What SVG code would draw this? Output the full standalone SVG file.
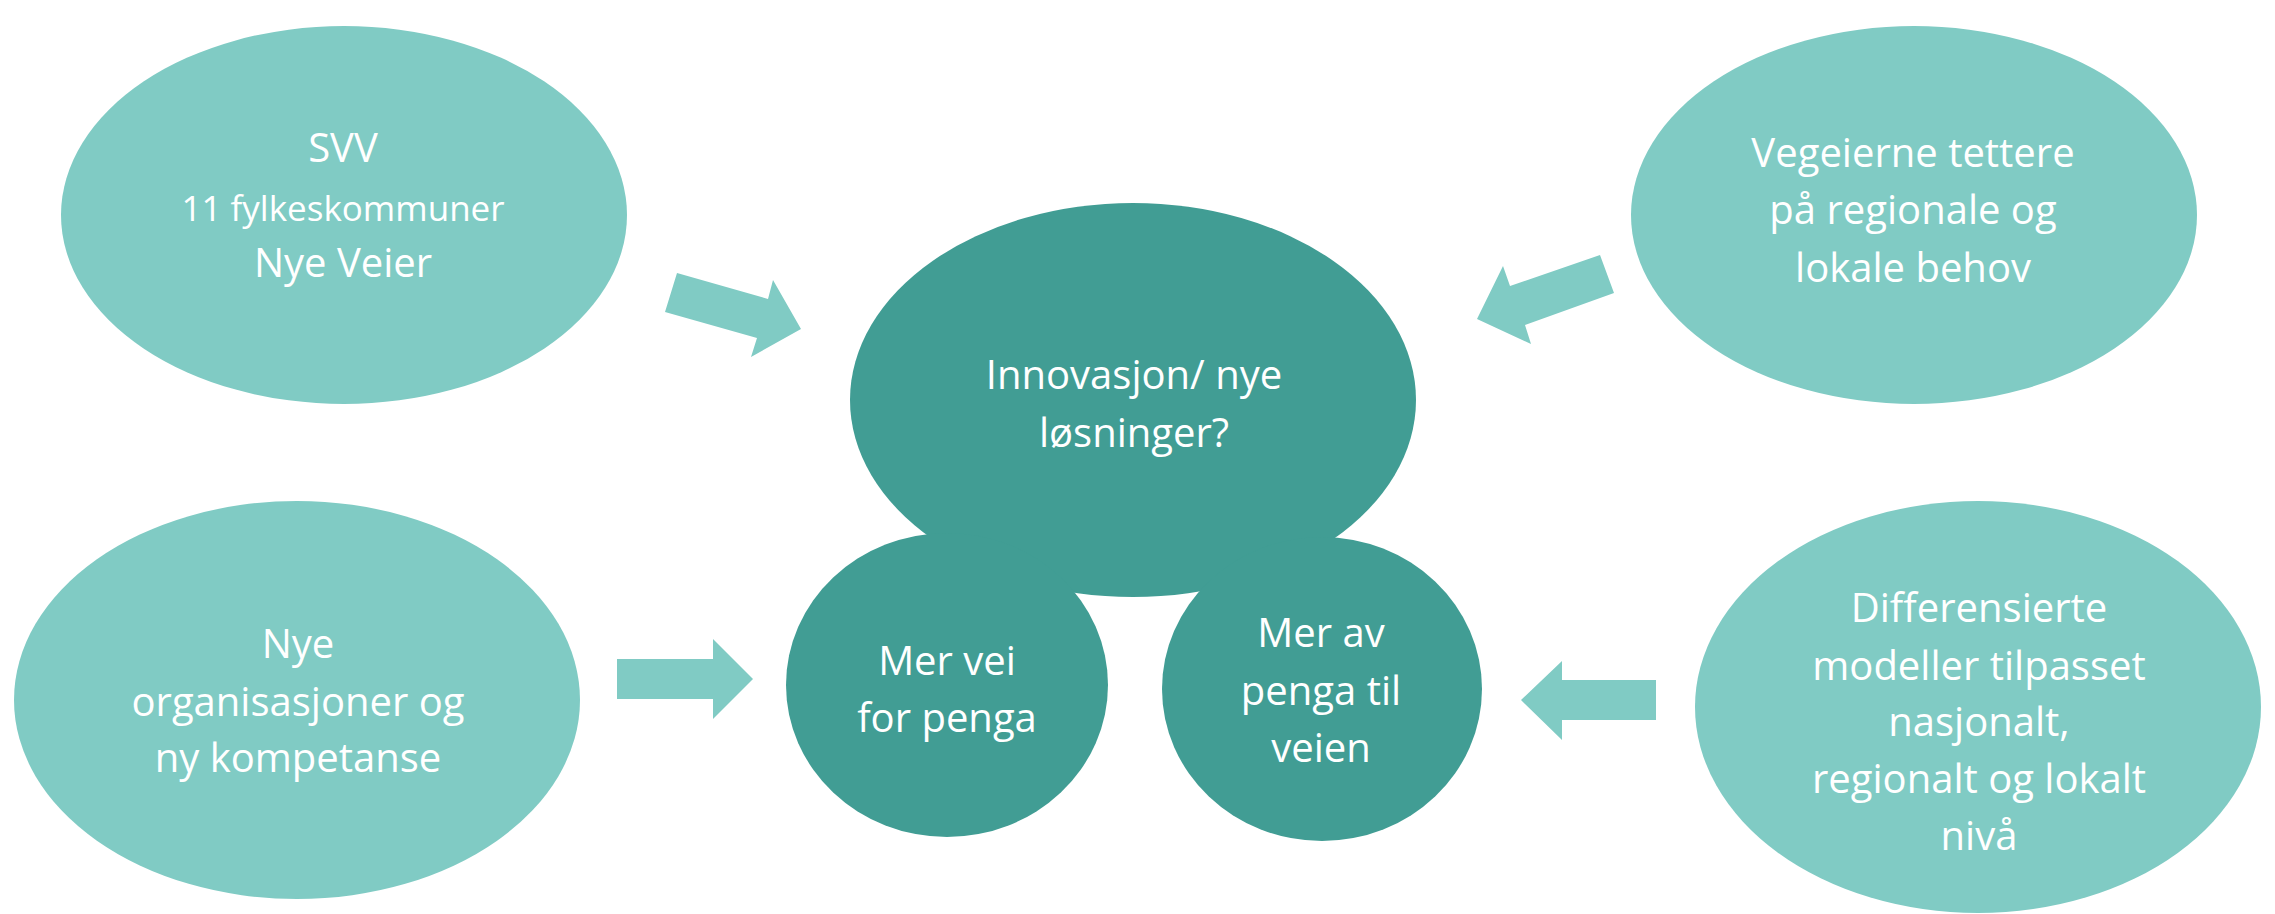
<svg xmlns="http://www.w3.org/2000/svg" width="2275" height="914" viewBox="0 0 2275 914">
<style>
.light{fill:#80CBC4}
.dark{fill:#419D94}
.arrow{fill:#80CBC4}
text{font-family:"Open Sans","Liberation Sans",sans-serif;font-size:40px;fill:#FFFFFF;text-anchor:middle}
.small{font-size:35px}
</style>
<rect width="2275" height="914" fill="#FFFFFF"/>
<g id="node-svv">
<ellipse class="light" cx="344" cy="215" rx="283" ry="189"/>
<text x="343" y="162">SVV</text>
<text class="small" x="343" y="221">11 fylkeskommuner</text>
<text x="343" y="277">Nye Veier</text>
</g>
<g id="node-vegeierne">
<ellipse class="light" cx="1914" cy="215" rx="283" ry="189"/>
<text x="1913" y="167">Vegeierne tettere</text>
<text x="1913" y="224">på regionale og</text>
<text x="1913" y="282">lokale behov</text>
</g>
<g id="node-organisasjoner">
<ellipse class="light" cx="297" cy="700" rx="283" ry="199"/>
<text x="298" y="658">Nye</text>
<text x="298" y="716">organisasjoner og</text>
<text x="298" y="772">ny kompetanse</text>
</g>
<g id="node-differensierte">
<ellipse class="light" cx="1978" cy="707" rx="283" ry="206"/>
<text x="1979" y="622">Differensierte</text>
<text x="1979" y="680">modeller tilpasset</text>
<text x="1979" y="736">nasjonalt,</text>
<text x="1979" y="793">regionalt og lokalt</text>
<text x="1979" y="850">nivå</text>
</g>
<g id="node-innovasjon">
<ellipse class="dark" cx="1133" cy="400" rx="283" ry="197"/>
<text x="1134" y="389">Innovasjon/ nye</text>
<text x="1134" y="447">løsninger?</text>
</g>
<g id="node-mer-vei">
<ellipse class="dark" cx="947" cy="685" rx="161" ry="152"/>
<text x="947" y="675">Mer vei</text>
<text x="947" y="732">for penga</text>
</g>
<g id="node-mer-av">
<ellipse class="dark" cx="1322" cy="689" rx="160" ry="152"/>
<text x="1321" y="647">Mer av</text>
<text x="1321" y="705">penga til</text>
<text x="1321" y="762">veien</text>
</g>
<g id="connectors">
<polygon class="arrow" points="677,273 768,299 773,280 801,329 751,357 757,338 665,312"/>
<polygon class="arrow" points="1600,255 1614,293 1525,325 1531,344 1477,319 1503,266 1510,286"/>
<polygon class="arrow" points="617,659 713,659 713,639 753,679 713,719 713,699 617,699"/>
<polygon class="arrow" points="1656,680 1562,680 1562,661 1521,700 1562,740 1562,720 1656,720"/>
</g>
</svg>
